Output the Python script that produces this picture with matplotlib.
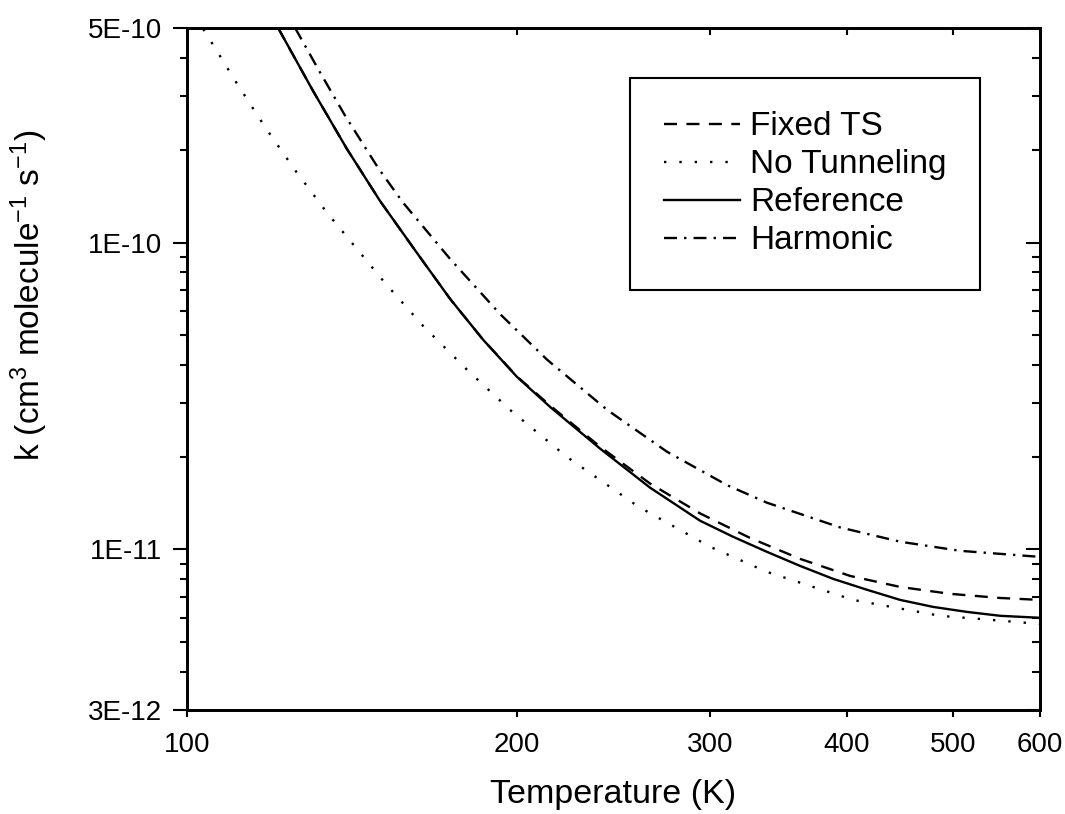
import matplotlib
matplotlib.use("Agg")
import matplotlib.pyplot as plt
from matplotlib.ticker import FixedLocator, FixedFormatter, NullLocator, NullFormatter

plt.rcParams["font.family"] = ["Liberation Sans", "DejaVu Sans"]
plt.rcParams["mathtext.default"] = "regular"

# values (T in K, k in cm3 molecule-1 s-1)
fixed_T = [121.1, 130.3, 139.9, 150.0, 162.1, 173.8, 186.3, 200.0, 214.5, 238.2, 264.5, 293.9, 326.4, 362.5,
           402.7, 447.3, 496.8, 551.9, 600]
fixed_k = [5.0e-10, 3.12e-10, 2.02e-10, 1.366e-10, 9.25e-11, 6.55e-11, 4.82e-11, 3.66e-11, 2.94e-11, 2.16e-11,
           1.64e-11, 1.31e-11, 1.09e-11, 9.32e-12, 8.20e-12, 7.55e-12, 7.17e-12, 6.95e-12, 6.85e-12]

notun_T = [100, 103.2, 111.1, 117.8, 125.5, 134.2, 144.4, 151.6, 164.2, 180.1, 197.1, 222.2, 258.0, 300.1,
           338.2, 405.2, 486.4, 540.4, 600]
notun_k = [6.03e-10, 5.04e-10, 3.29e-10, 2.38e-10, 1.72e-10, 1.25e-10, 9.11e-11, 7.38e-11, 5.35e-11, 3.85e-11,
           2.85e-11, 2.00e-11, 1.38e-11, 1.02e-11, 8.45e-12, 6.85e-12, 6.08e-12, 5.90e-12, 5.72e-12]

ref_T = [121.1, 130.3, 139.9, 150.0, 162.1, 173.8, 186.3, 200.0, 214.5, 238.2, 264.5, 293.9, 314.9, 338.2,
         362.5, 388.6, 417.3, 447.3, 479.4, 514.8, 551.9, 600]
ref_k = [5.0e-10, 3.12e-10, 2.02e-10, 1.366e-10, 9.25e-11, 6.55e-11, 4.82e-11, 3.65e-11, 2.91e-11, 2.13e-11,
         1.59e-11, 1.24e-11, 1.10e-11, 9.82e-12, 8.84e-12, 8.02e-12, 7.39e-12, 6.85e-12, 6.50e-12, 6.26e-12,
         6.08e-12, 5.99e-12]

harm_T = [125.5, 132.2, 139.3, 149.4, 157.4, 173.8, 193.0, 213.1, 241.7, 274.2, 311.0, 338.2, 394.3, 447.3,
          507.4, 600]
harm_k = [5.0e-10, 3.59e-10, 2.60e-10, 1.75e-10, 1.35e-10, 8.84e-11, 5.85e-11, 4.15e-11, 2.85e-11, 2.08e-11,
          1.62e-11, 1.42e-11, 1.18e-11, 1.06e-11, 9.90e-12, 9.46e-12]

x_ticks = [100, 200, 300, 400, 500, 600]
y_ticks = [3e-12, 1e-11, 1e-10, 5e-10]
y_tick_labels = ["3E-12", "1E-11", "1E-10", "5E-10"]
y_minor = [4e-12, 5e-12, 6e-12, 7e-12, 8e-12, 9e-12,
           2e-11, 3e-11, 4e-11, 5e-11, 6e-11, 7e-11, 8e-11, 9e-11,
           2e-10, 3e-10, 4e-10]

fig = plt.figure(figsize=(10.65, 8.14), dpi=100)
ax = fig.add_axes([0.1756, 0.1278, 0.8009, 0.8378])

lw = 1.7
ax.plot(fixed_T, fixed_k, color="black", lw=lw, linestyle=(0, (5.5, 4)), label="Fixed TS")
ax.plot(notun_T, notun_k, color="black", lw=lw, linestyle=(0, (1, 5.5)), label="No Tunneling")
ax.plot(ref_T, ref_k, color="black", lw=lw, linestyle="-", label="Reference")
ax.plot(harm_T, harm_k, color="black", lw=lw, linestyle=(0, (5.5, 3, 1, 3)), label="Harmonic")

ax.set_xscale("log")
ax.set_yscale("log")
ax.set_xlim(100, 600)
ax.set_ylim(3e-12, 5e-10)

ax.xaxis.set_major_locator(FixedLocator(x_ticks))
ax.xaxis.set_major_formatter(FixedFormatter([str(t) for t in x_ticks]))
ax.xaxis.set_minor_locator(NullLocator())
ax.yaxis.set_major_locator(FixedLocator(y_ticks))
ax.yaxis.set_major_formatter(FixedFormatter(y_tick_labels))
ax.yaxis.set_minor_locator(FixedLocator(y_minor))
ax.yaxis.set_minor_formatter(NullFormatter())

ax.tick_params(axis="x", which="major", direction="out", length=5, width=1.5, labelsize=20, pad=11)
ax.tick_params(axis="y", which="major", direction="out", length=10, width=1.5, labelsize=20, pad=8)
ax.tick_params(axis="y", which="minor", direction="out", length=5, width=1.5)
for s in ax.spines.values():
    s.set_linewidth(1.8)

# right and top ticks point inward
axr = ax.twinx()
axr.set_yscale("log")
axr.set_ylim(3e-12, 5e-10)
axr.yaxis.set_major_locator(FixedLocator(y_ticks))
axr.yaxis.set_minor_locator(FixedLocator(y_minor))
axr.yaxis.set_major_formatter(NullFormatter())
axr.yaxis.set_minor_formatter(NullFormatter())
axr.tick_params(axis="y", which="major", direction="in", length=10, width=1.5)
axr.tick_params(axis="y", which="minor", direction="in", length=5.5, width=1.5)

axt = ax.twiny()
axt.set_xscale("log")
axt.set_xlim(100, 600)
axt.xaxis.set_major_locator(FixedLocator(x_ticks))
axt.xaxis.set_major_formatter(NullFormatter())
axt.xaxis.set_minor_locator(NullLocator())
axt.tick_params(axis="x", which="major", direction="in", length=5, width=1.5)
for a in (axr, axt):
    for s in a.spines.values():
        s.set_linewidth(1.8)

ax.set_xlabel("Temperature (K)", fontsize=24.5, labelpad=15)
ax.set_ylabel(r"k (cm$^{3}$ molecule$^{-1}$ s$^{-1}$)", fontsize=24)
ax.yaxis.set_label_coords(-0.1606, 0.608)

leg = ax.legend(loc="upper right", bbox_to_anchor=(0.9297, 0.9267), borderaxespad=0,
                fontsize=24, handlelength=2.3, handletextpad=0.3, labelspacing=0.21,
                borderpad=1.0, fancybox=False, framealpha=1, edgecolor="black")
leg.get_frame().set_linewidth(1.5)

fig.savefig("out.png", dpi=100)
